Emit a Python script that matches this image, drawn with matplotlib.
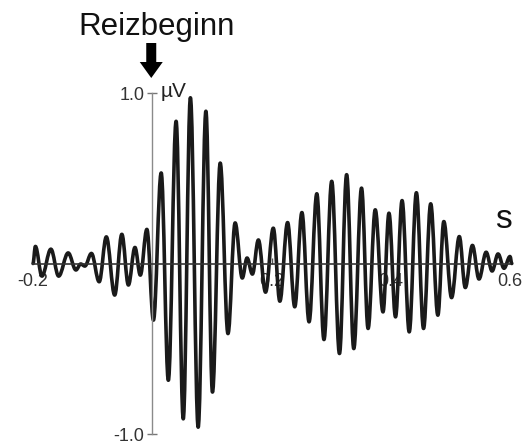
import matplotlib
matplotlib.use("Agg")
import matplotlib.pyplot as plt
from matplotlib.path import Path
from matplotlib.patches import PathPatch, FancyArrow
from matplotlib.transforms import IdentityTransform

plt.rcParams['font.family'] = ['Liberation Sans', 'DejaVu Sans']

# extrema of the averaged response (time in s, amplitude in µV)
t_ext = [-0.200, -0.196, -0.185, -0.170, -0.157, -0.141, -0.128, -0.120, -0.113,
         -0.102, -0.089, -0.077, -0.063, -0.051, -0.040, -0.029, -0.020, -0.009,
         0.002, 0.015, 0.027, 0.040, 0.052, 0.064, 0.077, 0.090, 0.101, 0.114,
         0.127, 0.139, 0.151, 0.159, 0.168, 0.178, 0.190, 0.203, 0.214, 0.227,
         0.239, 0.251, 0.263, 0.276, 0.288, 0.301, 0.314, 0.326, 0.338, 0.351,
         0.362, 0.374, 0.387, 0.397, 0.408, 0.419, 0.431, 0.443, 0.455, 0.467,
         0.479, 0.489, 0.502, 0.515, 0.525, 0.537, 0.548, 0.560, 0.570, 0.580,
         0.590, 0.600, 0.603]
a_ext = [0.00, 0.100, -0.074, 0.084, -0.074, 0.062, -0.038, -0.003, -0.015,
         0.059, -0.107, 0.156, -0.185, 0.171, -0.126, 0.094, -0.068, 0.200,
         -0.332, 0.531, -0.685, 0.834, -0.911, 0.972, -0.960, 0.893, -0.754, 0.589,
         -0.411, 0.238, -0.085, 0.032, -0.062, 0.138, -0.168, 0.207, -0.221, 0.240,
         -0.254, 0.299, -0.342, 0.409, -0.446, 0.482, -0.528, 0.521, -0.499, 0.442,
         -0.381, 0.315, -0.284, 0.295, -0.313, 0.369, -0.401, 0.415, -0.381, 0.350,
         -0.303, 0.246, -0.200, 0.158, -0.141, 0.106, -0.091, 0.066, -0.044, 0.056,
         -0.028, 0.041, 0.000]

x_ticks = [-0.2, 0.2, 0.4, 0.6]
x_labels = ['-0.2', '0.2', '0.4', '0.6']
y_ticks = [-1.0, 1.0]
y_labels = ['-1.0', '1.0']

W, H = 531, 444
fig = plt.figure(figsize=(W / 100, H / 100), dpi=100)
ax = fig.add_axes([33 / W, 1 - 434 / H, 477 / W, 341 / H])
ax.set_xlim(-0.2, 0.6)
ax.set_ylim(-1.0, 1.0)

# smooth waveform through the extrema (cubic Bezier, horizontal tangents)
k = 0.364
verts = [(t_ext[0], a_ext[0])]
codes = [Path.MOVETO]
for i in range(len(t_ext) - 1):
    t0, a0 = t_ext[i], a_ext[i]
    t1, a1 = t_ext[i + 1], a_ext[i + 1]
    dt = t1 - t0
    verts += [(t0 + k * dt, a0), (t1 - k * dt, a1), (t1, a1)]
    codes += [Path.CURVE4] * 3
patch = PathPatch(Path(verts, codes), fill=False, edgecolor='#1a1a1a',
                  linewidth=2.6, joinstyle='round', capstyle='round',
                  clip_on=False, zorder=3)
ax.add_patch(patch)

for s in ['top', 'right']:
    ax.spines[s].set_visible(False)
ax.spines['left'].set_position(('data', 0))
ax.spines['bottom'].set_position(('data', 0))
ax.spines['left'].set_color('#8a8a8a')
ax.spines['left'].set_linewidth(1.0)
ax.spines['bottom'].set_color('#333333')
ax.spines['bottom'].set_linewidth(1.2)
ax.spines['left'].set_zorder(4)
ax.spines['bottom'].set_zorder(4)

ax.set_xticks(x_ticks)
ax.set_xticklabels(x_labels)
ax.set_yticks(y_ticks)
ax.set_yticklabels(y_labels)
ax.tick_params(axis='x', direction='in', length=4, width=1, color='#555555',
               labelsize=13, labelcolor='#333333', pad=7)
ax.tick_params(axis='y', direction='inout', length=7, width=1, color='#777777',
               labelsize=13, labelcolor='#333333', pad=2)
ax.patch.set_visible(False)

ax.text(0.0146, 0.975, 'µV', ha='left', va='baseline', fontsize=15, color='#222222')
ax.text(0.589, 0.256, 's', ha='center', va='center', fontsize=24, color='#111111')

fig.text(156.5 / W, 1 - 35 / H, 'Reizbeginn', ha='center', va='baseline',
         fontsize=22.5, color='#111111')

fig.canvas.draw()
x0 = ax.transData.transform((0, 0))[0] - 1
arrow = FancyArrow(x0, H - 43, 0, -35, width=10, head_width=23, head_length=16,
                   length_includes_head=True, transform=IdentityTransform(),
                   color='black', linewidth=0)
fig.add_artist(arrow)

fig.savefig('out.png', dpi=100)
